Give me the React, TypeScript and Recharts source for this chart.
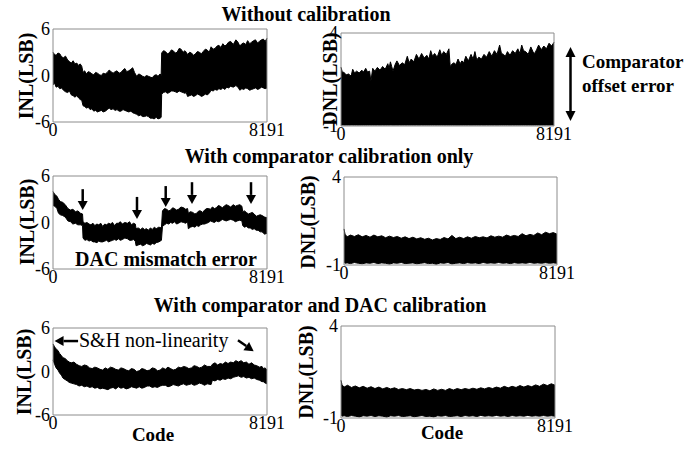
import React from 'react';
import { ComposedChart, Area, XAxis, YAxis, ReferenceArea, ReferenceLine } from 'recharts';

const FONT = "'Liberation Serif', 'Times New Roman', Tinos, 'DejaVu Serif', serif";

// ---- INL without calibration
const p1Code = [0, 60, 120, 190, 260, 330, 400, 480, 560, 630, 700, 770, 840, 910, 980, 1040, 1100, 1150, 1210, 1280, 1350, 1420, 1490, 1560, 1630, 1700, 1780, 1850, 1920, 2000, 2080, 2150, 2220, 2300, 2380, 2450, 2530, 2600, 2680, 2750, 2820, 2900, 2980, 3050, 3120, 3200, 3280, 3350, 3430, 3500, 3580, 3650, 3720, 3800, 3870, 3950, 4020, 4100, 4140, 4160, 4230, 4300, 4380, 4450, 4530, 4600, 4680, 4750, 4830, 4900, 4980, 5050, 5100, 5150, 5230, 5300, 5380, 5450, 5530, 5600, 5680, 5750, 5830, 5900, 5980, 6050, 6130, 6200, 6280, 6350, 6430, 6500, 6580, 6650, 6720, 6800, 6900, 7000, 7080, 7150, 7230, 7300, 7380, 7450, 7530, 7600, 7680, 7750, 7830, 7900, 7980, 8050, 8120, 8191];
const p1Hi = [3.0, 2.7, 2.6, 2.9, 2.8, 2.4, 2.3, 2.5, 2.0, 1.8, 1.6, 1.9, 1.5, 1.6, 1.3, 1.5, 1.2, 0.4, 0.6, 0.2, 0.5, 0.4, 0.2, 0.1, 0.4, 0.3, 0.1, 0.0, 0.3, 0.2, 0.4, 0.7, 0.5, 0.3, 0.5, 0.6, 0.3, 0.4, 0.7, 0.9, 0.5, 0.6, 0.8, 1.0, 0.4, -0.1, 0.2, 0.1, -0.1, -0.2, 0.0, -0.1, -0.2, -0.3, 0.0, 0.1, -0.1, 0.2, 0.0, 2.9, 3.2, 3.1, 2.8, 2.9, 3.3, 3.2, 2.9, 3.0, 3.5, 3.4, 3.0, 3.2, 3.0, 2.7, 3.0, 2.9, 2.6, 2.8, 3.1, 3.0, 2.8, 3.1, 3.4, 3.3, 3.0, 3.7, 3.4, 3.5, 3.8, 3.9, 3.6, 4.1, 3.8, 4.0, 4.3, 4.4, 4.0, 4.6, 4.3, 3.8, 4.1, 4.2, 4.0, 4.5, 4.1, 4.3, 4.5, 4.6, 4.2, 4.4, 4.6, 4.7, 4.4, 4.8];
const p1Lo = [-1.2, -1.0, -1.5, -1.4, -1.7, -1.6, -1.9, -2.1, -2.2, -2.0, -2.5, -2.6, -2.8, -2.6, -2.9, -3.1, -3.2, -3.9, -4.0, -4.2, -4.1, -4.4, -4.3, -4.6, -4.5, -4.7, -4.6, -4.5, -4.7, -4.6, -4.4, -4.2, -4.4, -4.3, -4.5, -4.4, -4.6, -4.6, -4.4, -4.5, -4.6, -4.7, -4.6, -4.8, -4.9, -5.0, -5.2, -5.1, -5.3, -5.3, -5.2, -5.3, -5.5, -5.5, -5.6, -5.4, -5.6, -5.5, -5.4, -2.4, -2.2, -2.1, -2.3, -2.2, -2.0, -2.0, -2.1, -2.2, -2.0, -2.1, -2.2, -2.3, -2.2, -2.7, -2.6, -2.5, -2.7, -2.6, -2.4, -2.5, -2.7, -2.6, -2.4, -2.5, -2.3, -1.9, -2.0, -1.8, -1.9, -1.7, -1.8, -1.6, -1.8, -1.5, -1.6, -1.4, -1.5, -1.3, -1.5, -1.9, -1.7, -1.8, -1.6, -1.7, -1.9, -1.8, -1.7, -1.6, -1.8, -1.7, -1.5, -1.6, -1.7, -1.6];

// ---- DNL without calibration (histogram floor sits at about -0.95)
const p2Code = [0, 60, 100, 200, 300, 350, 400, 450, 520, 600, 700, 800, 870, 950, 1020, 1100, 1150, 1220, 1300, 1400, 1500, 1600, 1700, 1800, 1850, 1900, 1950, 2000, 2080, 2150, 2250, 2350, 2450, 2550, 2620, 2700, 2800, 2900, 3000, 3100, 3200, 3300, 3380, 3450, 3520, 3600, 3700, 3800, 3870, 3950, 4050, 4150, 4200, 4280, 4350, 4420, 4500, 4580, 4650, 4720, 4800, 4900, 5000, 5080, 5150, 5220, 5300, 5400, 5500, 5600, 5700, 5800, 5900, 6000, 6100, 6170, 6250, 6320, 6400, 6500, 6600, 6700, 6800, 6880, 6950, 7020, 7100, 7200, 7300, 7380, 7450, 7520, 7600, 7700, 7800, 7900, 8000, 8100, 8191];
const p2Hi = [2.16, 1.85, 1.9, 1.75, 1.8, 1.7, 1.75, 2.05, 1.85, 1.95, 1.85, 2.0, 1.9, 2.1, 1.9, 1.95, 1.4, 2.1, 1.95, 2.15, 2.0, 2.2, 2.05, 2.35, 2.1, 2.45, 2.2, 1.95, 2.3, 2.5, 2.25, 2.4, 2.3, 2.75, 2.4, 2.6, 2.45, 2.85, 2.6, 2.9, 2.65, 2.8, 2.6, 3.05, 2.75, 2.9, 2.7, 3.1, 2.8, 3.0, 2.85, 3.15, 2.2, 2.35, 2.4, 2.3, 2.6, 2.35, 2.5, 2.4, 2.75, 2.5, 2.85, 2.6, 3.0, 2.55, 2.7, 2.6, 2.85, 2.7, 3.0, 2.75, 3.05, 2.85, 3.35, 2.9, 2.85, 2.75, 3.0, 2.8, 3.05, 2.9, 3.15, 2.9, 3.35, 3.05, 3.0, 2.85, 3.25, 3.0, 2.9, 3.1, 3.35, 3.1, 3.3, 3.15, 3.45, 3.3, 3.5];
const p2Floor = -0.95;

// ---- INL with comparator calibration only
const p3Code = [0, 70, 150, 210, 280, 370, 470, 570, 670, 760, 860, 950, 1050, 1130, 1150, 1220, 1300, 1380, 1450, 1530, 1600, 1680, 1750, 1830, 1900, 1980, 2050, 2130, 2200, 2280, 2350, 2430, 2500, 2580, 2650, 2750, 2850, 2930, 3000, 3080, 3150, 3180, 3260, 3350, 3430, 3500, 3580, 3650, 3730, 3800, 3880, 3950, 4050, 4150, 4190, 4270, 4350, 4430, 4500, 4580, 4650, 4730, 4800, 4900, 5000, 5080, 5150, 5180, 5260, 5350, 5430, 5500, 5580, 5650, 5730, 5800, 5880, 5950, 6030, 6100, 6180, 6250, 6330, 6400, 6480, 6550, 6630, 6700, 6800, 6900, 6980, 7050, 7150, 7230, 7260, 7330, 7400, 7480, 7550, 7630, 7700, 7780, 7850, 7930, 8000, 8100, 8191];
const p3Hi = [4.0, 3.6, 3.4, 3.0, 2.7, 2.6, 2.3, 1.8, 1.6, 1.7, 1.4, 1.5, 1.2, 1.1, 0.1, -0.1, 0.0, -0.2, -0.3, -0.1, -0.4, -0.2, -0.3, -0.1, -0.5, -0.2, -0.3, -0.1, -0.2, 0.0, -0.4, -0.1, -0.1, 0.1, -0.2, 0.0, -0.1, 0.1, -0.3, -0.1, -0.2, -0.8, -0.7, -0.9, -0.7, -0.9, -0.8, -1.0, -0.7, -0.9, -0.6, -0.8, -0.6, -0.7, 1.5, 1.8, 1.7, 1.5, 1.6, 1.9, 1.8, 1.6, 1.7, 2.0, 1.9, 1.7, 1.8, 1.2, 1.4, 1.3, 1.1, 1.2, 1.5, 1.5, 1.3, 1.6, 1.8, 1.8, 1.7, 2.0, 1.8, 1.9, 2.2, 2.1, 1.9, 2.1, 2.3, 2.2, 2.0, 2.3, 2.1, 2.2, 2.3, 2.1, 1.4, 1.5, 1.3, 1.1, 1.2, 1.3, 1.1, 0.8, 0.9, 1.0, 0.9, 0.7, 0.6];
const p3Lo = [2.2, 2.1, 1.8, 1.2, 1.0, 0.9, 0.7, 0.2, 0.1, -0.2, -0.1, -0.3, -0.3, -0.4, -2.0, -2.3, -2.2, -2.4, -2.3, -2.5, -2.5, -2.6, -2.4, -2.5, -2.5, -2.4, -2.3, -2.5, -2.4, -2.3, -2.2, -2.3, -2.1, -2.3, -2.2, -2.0, -2.1, -2.3, -2.3, -2.2, -2.4, -3.0, -2.9, -2.8, -3.0, -2.9, -2.7, -2.8, -2.9, -2.7, -2.8, -2.6, -2.5, -2.3, -0.5, -0.3, -0.1, -0.2, 0.0, -0.1, 0.1, -0.2, -0.1, 0.1, 0.0, -0.1, 0.1, -0.8, -0.6, -0.5, -0.6, -0.4, -0.5, -0.3, -0.2, -0.2, -0.1, 0.0, 0.2, 0.1, 0.0, 0.2, 0.1, 0.2, 0.4, 0.3, 0.2, 0.3, 0.4, 0.3, 0.1, 0.2, 0.3, 0.2, -0.4, -0.6, -0.5, -0.7, -0.7, -0.9, -0.8, -1.0, -1.0, -1.2, -1.2, -1.5, -1.4];

// ---- DNL with comparator calibration only
const p4Code = [0, 40, 120, 250, 400, 550, 700, 850, 1000, 1150, 1300, 1450, 1600, 1750, 1900, 2050, 2200, 2350, 2500, 2650, 2800, 2950, 3100, 3250, 3400, 3550, 3700, 3850, 4000, 4150, 4300, 4450, 4600, 4750, 4900, 5050, 5200, 5350, 5500, 5650, 5800, 5950, 6100, 6250, 6400, 6550, 6700, 6850, 7000, 7150, 7300, 7450, 7600, 7750, 7900, 8050, 8191];
const p4Hi = [1.05, 0.75, 0.6, 0.7, 0.62, 0.72, 0.6, 0.68, 0.58, 0.7, 0.6, 0.66, 0.55, 0.64, 0.56, 0.62, 0.52, 0.6, 0.5, 0.58, 0.48, 0.55, 0.46, 0.52, 0.42, 0.5, 0.45, 0.56, 0.48, 0.68, 0.5, 0.58, 0.5, 0.6, 0.52, 0.62, 0.55, 0.6, 0.54, 0.66, 0.58, 0.64, 0.58, 0.7, 0.62, 0.68, 0.62, 0.78, 0.66, 0.74, 0.68, 0.82, 0.72, 0.86, 0.78, 0.84, 0.75];
const p4Lo = [-0.85, -0.9, -0.88, -0.92, -0.86, -0.9, -0.93, -0.88, -0.9, -0.86, -0.92, -0.88, -0.9, -0.95, -0.88, -0.9, -0.86, -0.92, -0.9, -0.88, -0.93, -0.9, -0.87, -0.92, -0.9, -0.96, -0.88, -0.9, -0.86, -0.94, -0.9, -0.88, -0.92, -0.87, -0.9, -0.88, -0.92, -0.86, -0.9, -0.88, -0.9, -0.86, -0.9, -0.88, -0.92, -0.87, -0.9, -0.88, -0.9, -0.86, -0.9, -0.88, -0.9, -0.87, -0.9, -0.88, -0.9];

// ---- INL with comparator and DAC calibration
const p5Code = [0, 60, 120, 190, 250, 320, 380, 460, 550, 620, 700, 800, 900, 1000, 1100, 1200, 1300, 1400, 1500, 1600, 1700, 1800, 1900, 2000, 2100, 2200, 2300, 2400, 2500, 2600, 2700, 2800, 2900, 3000, 3100, 3200, 3300, 3400, 3500, 3600, 3700, 3800, 3900, 4000, 4100, 4200, 4300, 4400, 4500, 4600, 4700, 4800, 4900, 5000, 5100, 5200, 5300, 5400, 5500, 5600, 5700, 5800, 5900, 6050, 6100, 6200, 6300, 6400, 6500, 6600, 6700, 6800, 6900, 7000, 7100, 7200, 7300, 7400, 7500, 7600, 7700, 7800, 7900, 8000, 8050, 8120, 8191];
const p5Hi = [3.8, 3.4, 3.1, 2.9, 2.5, 2.2, 1.9, 1.8, 1.5, 1.3, 1.2, 1.3, 1.0, 0.8, 0.7, 0.9, 0.8, 0.5, 0.4, 0.6, 0.5, 0.3, 0.2, 0.5, 0.3, 0.6, 0.5, 0.3, 0.2, 0.5, 0.4, 0.2, 0.1, 0.4, 0.3, 0.0, 0.1, 0.4, 0.3, 0.1, 0.2, 0.5, 0.4, 0.1, 0.2, 0.5, 0.3, 0.6, 0.4, 0.2, 0.3, 0.6, 0.5, 0.7, 0.6, 0.4, 0.5, 0.8, 0.7, 0.5, 0.6, 0.9, 0.7, 0.7, 1.0, 1.2, 0.9, 1.1, 1.0, 1.3, 1.1, 1.3, 1.2, 1.5, 1.3, 1.5, 1.2, 1.3, 1.0, 1.2, 0.9, 0.8, 0.6, 0.7, 0.4, 0.5, 0.2];
const p5Lo = [1.6, 1.0, 0.5, 0.2, -0.2, -0.5, -0.9, -1.1, -1.3, -1.5, -1.6, -1.7, -1.8, -2.0, -1.9, -2.1, -2.0, -2.2, -2.1, -2.3, -2.2, -2.4, -2.3, -2.4, -2.5, -2.3, -2.2, -2.4, -2.1, -2.3, -2.2, -2.4, -2.3, -2.1, -2.2, -2.3, -2.1, -2.3, -2.2, -2.0, -2.0, -2.2, -2.1, -2.2, -2.0, -1.9, -1.9, -2.1, -2.0, -1.8, -1.9, -2.0, -1.8, -1.7, -1.9, -1.8, -1.7, -1.9, -1.8, -1.6, -1.7, -1.9, -1.7, -1.8, -1.2, -1.3, -1.1, -1.2, -1.0, -1.1, -0.9, -1.0, -0.8, -0.7, -0.6, -0.8, -0.7, -0.9, -0.8, -1.0, -0.9, -1.1, -1.2, -1.4, -1.4, -1.6, -1.7];

// ---- DNL with comparator and DAC calibration
const p6Code = [0, 40, 120, 250, 400, 550, 700, 850, 1000, 1150, 1300, 1450, 1600, 1750, 1900, 2050, 2200, 2350, 2500, 2650, 2800, 2950, 3100, 3250, 3400, 3550, 3700, 3850, 4000, 4150, 4300, 4450, 4600, 4750, 4900, 5050, 5200, 5350, 5500, 5650, 5800, 5950, 6100, 6250, 6400, 6550, 6700, 6850, 7000, 7150, 7300, 7450, 7600, 7750, 7900, 8050, 8191];
const p6Hi = [1.05, 0.8, 0.68, 0.78, 0.66, 0.74, 0.64, 0.72, 0.62, 0.7, 0.6, 0.68, 0.58, 0.66, 0.58, 0.64, 0.55, 0.6, 0.54, 0.6, 0.52, 0.56, 0.5, 0.55, 0.48, 0.58, 0.5, 0.56, 0.5, 0.6, 0.52, 0.6, 0.54, 0.6, 0.55, 0.62, 0.56, 0.64, 0.58, 0.66, 0.6, 0.68, 0.62, 0.72, 0.64, 0.72, 0.66, 0.76, 0.68, 0.76, 0.7, 0.8, 0.72, 0.84, 0.76, 0.86, 0.78];
const p6Lo = [-0.85, -0.9, -0.88, -0.92, -0.87, -0.9, -0.94, -0.88, -0.9, -0.87, -0.92, -0.88, -0.9, -0.95, -0.88, -0.9, -0.87, -0.92, -0.9, -0.88, -0.93, -0.9, -0.87, -0.92, -0.9, -0.94, -0.88, -0.9, -0.87, -0.92, -0.9, -0.88, -0.92, -0.87, -0.9, -0.88, -0.92, -0.86, -0.9, -0.88, -0.9, -0.86, -0.9, -0.88, -0.92, -0.87, -0.9, -0.88, -0.9, -0.86, -0.9, -0.88, -0.9, -0.87, -0.9, -0.88, -0.9];

const inlTicks = [-6, 0, 6];
const dnlTicks = [-1, 4];
const codeTicks = [0, 8191];

// annotation arrows in data units: [code, yStart, yEnd]
const dacArrows = [
  [1137, 4.3, 1.6],
  [3215, 3.3, 0.45],
  [4314, 4.7, 2.0],
  [5320, 5.2, 2.4],
  [7579, 5.2, 2.4],
];

const rows = (code: number[], lo: number[] | number, hi: number[]) =>
  code.map((c, i) => ({ code: c, band: [Array.isArray(lo) ? lo[i] : lo, hi[i]] }));

type Box = { x: number; y: number; w: number; h: number };
const MT = 12;
const MR = 26;
const YW = 53;
const XH = 26;

const tickStyle = { fill: '#000', fontSize: 18, fontFamily: FONT, style: { fontFamily: FONT } };

function ArrowShape(props: any) {
  const { x1, y1, x2, y2 } = props;
  const a = Math.atan2(y2 - y1, x2 - x1);
  const len = 9;
  const half = 5;
  const bx = x2 - len * Math.cos(a);
  const by = y2 - len * Math.sin(a);
  const px = -Math.sin(a) * half;
  const py = Math.cos(a) * half;
  return (
    <g>
      <line x1={x1} y1={y1} x2={bx} y2={by} stroke="#000" strokeWidth={2.5} />
      <polygon points={`${x2},${y2} ${bx + px},${by + py} ${bx - px},${by - py}`} fill="#000" />
    </g>
  );
}

function Panel({
  box,
  data,
  yDomain,
  yTicks,
  children,
}: {
  box: Box;
  data: { code: number; band: number[] }[];
  yDomain: [number, number];
  yTicks: number[];
  children?: React.ReactNode;
}) {
  return (
    <div style={{ position: 'absolute', left: box.x - YW, top: box.y - MT }}>
      <ComposedChart
        width={box.w + YW + MR}
        height={box.h + MT + XH}
        data={data}
        margin={{ top: MT, right: MR, left: 0, bottom: 0 }}
      >
        <XAxis
          dataKey="code"
          type="number"
          domain={[0, 8191]}
          ticks={codeTicks}
          interval={0}
          height={XH}
          axisLine={false}
          tickLine={false}
          tickSize={0}
          tickMargin={1}
          tick={tickStyle}
        />
        <YAxis
          type="number"
          domain={yDomain}
          ticks={yTicks}
          interval={0}
          width={YW}
          axisLine={false}
          tickLine={false}
          tickSize={0}
          tickMargin={3}
          tick={tickStyle}
          allowDataOverflow
        />
        <Area
          dataKey="band"
          type="linear"
          stroke="#000"
          strokeWidth={1}
          fill="#000"
          fillOpacity={1}
          dot={false}
          activeDot={false}
          isAnimationActive={false}
        />
        <ReferenceArea
          x1={0}
          x2={8191}
          y1={yDomain[0]}
          y2={yDomain[1]}
          fill="none"
          fillOpacity={0}
          stroke="#8c8c8c"
          strokeWidth={1}
          ifOverflow="visible"
        />
        {children}
      </ComposedChart>
    </div>
  );
}

const B1 = { x: 53, y: 29, w: 214, h: 93 };
const B2 = { x: 341, y: 33, w: 213, h: 93 };
const B3 = { x: 53, y: 176, w: 214, h: 93 };
const B4 = { x: 344, y: 177, w: 213, h: 88 };
const B5 = { x: 53, y: 328, w: 214, h: 87 };
const B6 = { x: 341, y: 326, w: 214, h: 92 };

function YLabel({ text, x, y }: { text: string; x: number; y: number }) {
  return (
    <text
      x={x}
      y={y}
      transform={`rotate(-90 ${x} ${y})`}
      textAnchor="middle"
      dominantBaseline="central"
      fontWeight="bold"
      fontSize={20}
    >
      {text}
    </text>
  );
}

export default function App() {
  const bold = { fontWeight: 'bold' as const, fill: '#000' };
  return (
    <div
      style={{
        position: 'absolute',
        left: 0,
        top: 0,
        width: 688,
        height: 450,
        background: '#fff',
        fontFamily: FONT,
      }}
    >
      <Panel box={B1} data={rows(p1Code, p1Lo, p1Hi)} yDomain={[-6, 6]} yTicks={inlTicks} />
      <Panel box={B2} data={rows(p2Code, p2Floor, p2Hi)} yDomain={[-1, 4]} yTicks={dnlTicks} />
      <Panel box={B3} data={rows(p3Code, p3Lo, p3Hi)} yDomain={[-6, 6]} yTicks={inlTicks}>
        {dacArrows.map(([c, ya, yb]) => (
          <ReferenceLine
            key={c}
            segment={[
              { x: c, y: ya },
              { x: c, y: yb },
            ]}
            shape={ArrowShape}
            ifOverflow="visible"
          />
        ))}
      </Panel>
      <Panel box={B4} data={rows(p4Code, p4Lo, p4Hi)} yDomain={[-1, 4]} yTicks={dnlTicks} />
      <Panel box={B5} data={rows(p5Code, p5Lo, p5Hi)} yDomain={[-6, 6]} yTicks={inlTicks}>
        <ReferenceLine
          segment={[
            { x: 960, y: 4.2 },
            { x: 60, y: 4.2 },
          ]}
          shape={ArrowShape}
          ifOverflow="visible"
        />
        <ReferenceLine
          segment={[
            { x: 7080, y: 4.3 },
            { x: 7680, y: 2.8 },
          ]}
          shape={ArrowShape}
          ifOverflow="visible"
        />
      </Panel>
      <Panel box={B6} data={rows(p6Code, p6Lo, p6Hi)} yDomain={[-1, 4]} yTicks={dnlTicks} />

      <svg
        width={688}
        height={450}
        style={{ position: 'absolute', left: 0, top: 0, pointerEvents: 'none', fontFamily: FONT }}
      >
        <text x={306} y={21} textAnchor="middle" fontSize={20} {...bold}>
          Without calibration
        </text>
        <text x={329} y={163} textAnchor="middle" fontSize={20} {...bold}>
          With comparator calibration only
        </text>
        <text x={320} y={312} textAnchor="middle" fontSize={20} {...bold}>
          With comparator and DAC calibration
        </text>

        <YLabel text="INL(LSB)" x={26} y={76} />
        <YLabel text="DNL(LSB)" x={330} y={79} />
        <YLabel text="INL(LSB)" x={27} y={222} />
        <YLabel text="DNL(LSB)" x={308} y={222} />
        <YLabel text="INL(LSB)" x={24} y={372} />
        <YLabel text="DNL(LSB)" x={306} y={372} />

        <text x={153} y={441} textAnchor="middle" fontSize={19} {...bold}>
          Code
        </text>
        <text x={442} y={439} textAnchor="middle" fontSize={19} {...bold}>
          Code
        </text>

        <text x={166} y={266} textAnchor="middle" fontSize={20} {...bold}>
          DAC mismatch error
        </text>
        <text x={79} y={347} fontSize={20} fill="#000">
          S&amp;H non-linearity
        </text>

        <line x1={570.5} y1={57} x2={570.5} y2={111} stroke="#000" strokeWidth={2.5} />
        <polygon points="570.5,47 565.5,57 575.5,57" fill="#000" />
        <polygon points="570.5,121 565.5,111 575.5,111" fill="#000" />
        <text x={582} y={68} fontSize={19} {...bold}>
          Comparator
        </text>
        <text x={582} y={92} fontSize={19} {...bold}>
          offset error
        </text>
      </svg>
    </div>
  );
}
